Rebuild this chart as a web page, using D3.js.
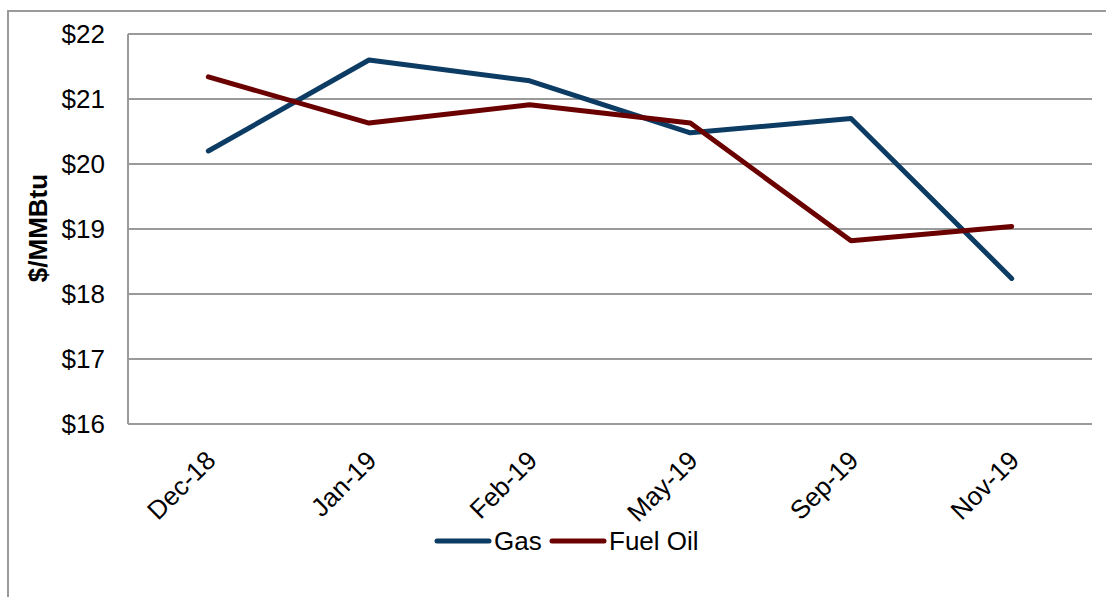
<!DOCTYPE html>
<html>
<head>
<meta charset="utf-8">
<script src="https://cdn.jsdelivr.net/npm/d3@7"></script>
<style>
  html, body { margin: 0; padding: 0; background: #fff; }
  svg { display: block; font-family: "Liberation Sans", Arial, sans-serif; }
</style>
</head>
<body>
<svg id="chart" width="1106" height="597"></svg>
<script>
const categories = ["Dec-18", "Jan-19", "Feb-19", "May-19", "Sep-19", "Nov-19"];
const gasValues = [20.20, 21.60, 21.28, 20.48, 20.70, 18.24];
const fuelOilValues = [21.34, 20.63, 20.91, 20.63, 18.82, 19.04];
const yTicks = [16, 17, 18, 19, 20, 21, 22];
const seriesNames = ["Gas", "Fuel Oil"];
const seriesColors = ["#0c3b63", "#6b0000"];

const svg = d3.select("#chart");
const margin = { left: 128, right: 1092, top: 34, bottom: 424 };
const FS = 26;

// outer frame
svg.append("rect")
  .attr("x", 8).attr("y", 11)
  .attr("width", 1120).attr("height", 620)
  .attr("fill", "none").attr("stroke", "#9a9a9a").attr("stroke-width", 2);

const x = d3.scaleBand().domain(categories).range([margin.left, margin.right]).padding(0);
const y = d3.scaleLinear().domain([16, 22]).range([margin.bottom, margin.top]);

// gridlines
svg.append("g")
  .selectAll("line")
  .data(yTicks)
  .join("line")
  .attr("x1", margin.left).attr("x2", margin.right)
  .attr("y1", d => y(d)).attr("y2", d => y(d))
  .attr("stroke", "#9a9a9a").attr("stroke-width", 2);

// y axis line
svg.append("line")
  .attr("x1", margin.left).attr("x2", margin.left)
  .attr("y1", margin.top).attr("y2", margin.bottom)
  .attr("stroke", "#9a9a9a").attr("stroke-width", 2);

// y axis labels
const yAxis = d3.axisLeft(y).tickValues(yTicks).tickFormat(d => "$" + d).tickSize(0).tickPadding(0);
const yg = svg.append("g").attr("transform", `translate(${105},0)`).call(yAxis);
yg.select(".domain").remove();
yg.selectAll("text")
  .attr("font-size", FS).attr("fill", "#000")
  .attr("font-family", "Liberation Sans, Arial, sans-serif");

// y axis title
svg.append("text")
  .attr("transform", `translate(47,228) rotate(-90)`)
  .attr("text-anchor", "middle")
  .attr("font-size", FS).attr("font-weight", "bold")
  .text("$/MMBtu");

// x axis labels
const xAxis = d3.axisBottom(x).tickSize(0).tickPadding(0);
const xg = svg.append("g").attr("transform", `translate(0,${margin.bottom})`).call(xAxis);
xg.select(".domain").remove();
xg.selectAll("text")
  .attr("font-size", FS).attr("fill", "#000")
  .attr("font-family", "Liberation Sans, Arial, sans-serif")
  .attr("text-anchor", "end")
  .attr("dy", "0")
  .attr("y", 0)
  .attr("transform", "translate(9,38) rotate(-45)");

// lines
const line = d3.line().x((d, i) => x(categories[i]) + x.bandwidth() / 2).y(d => y(d));
const allSeries = [gasValues, fuelOilValues];
svg.append("g")
  .selectAll("path")
  .data(allSeries)
  .join("path")
  .attr("d", d => line(d))
  .attr("fill", "none")
  .attr("stroke", (d, i) => seriesColors[i])
  .attr("stroke-width", 5)
  .attr("stroke-linecap", "round")
  .attr("stroke-linejoin", "round");

// legend
const legendItems = [
  { name: seriesNames[0], color: seriesColors[0], x1: 437, x2: 489, tx: 494 },
  { name: seriesNames[1], color: seriesColors[1], x1: 552, x2: 604, tx: 609 }
];
const lg = svg.append("g");
legendItems.forEach(it => {
  lg.append("line").attr("x1", it.x1).attr("x2", it.x2).attr("y1", 541).attr("y2", 541)
    .attr("stroke", it.color).attr("stroke-width", 5).attr("stroke-linecap", "round");
  lg.append("text").attr("x", it.tx).attr("y", 550).attr("font-size", FS).text(it.name);
});
</script>
</body>
</html>
